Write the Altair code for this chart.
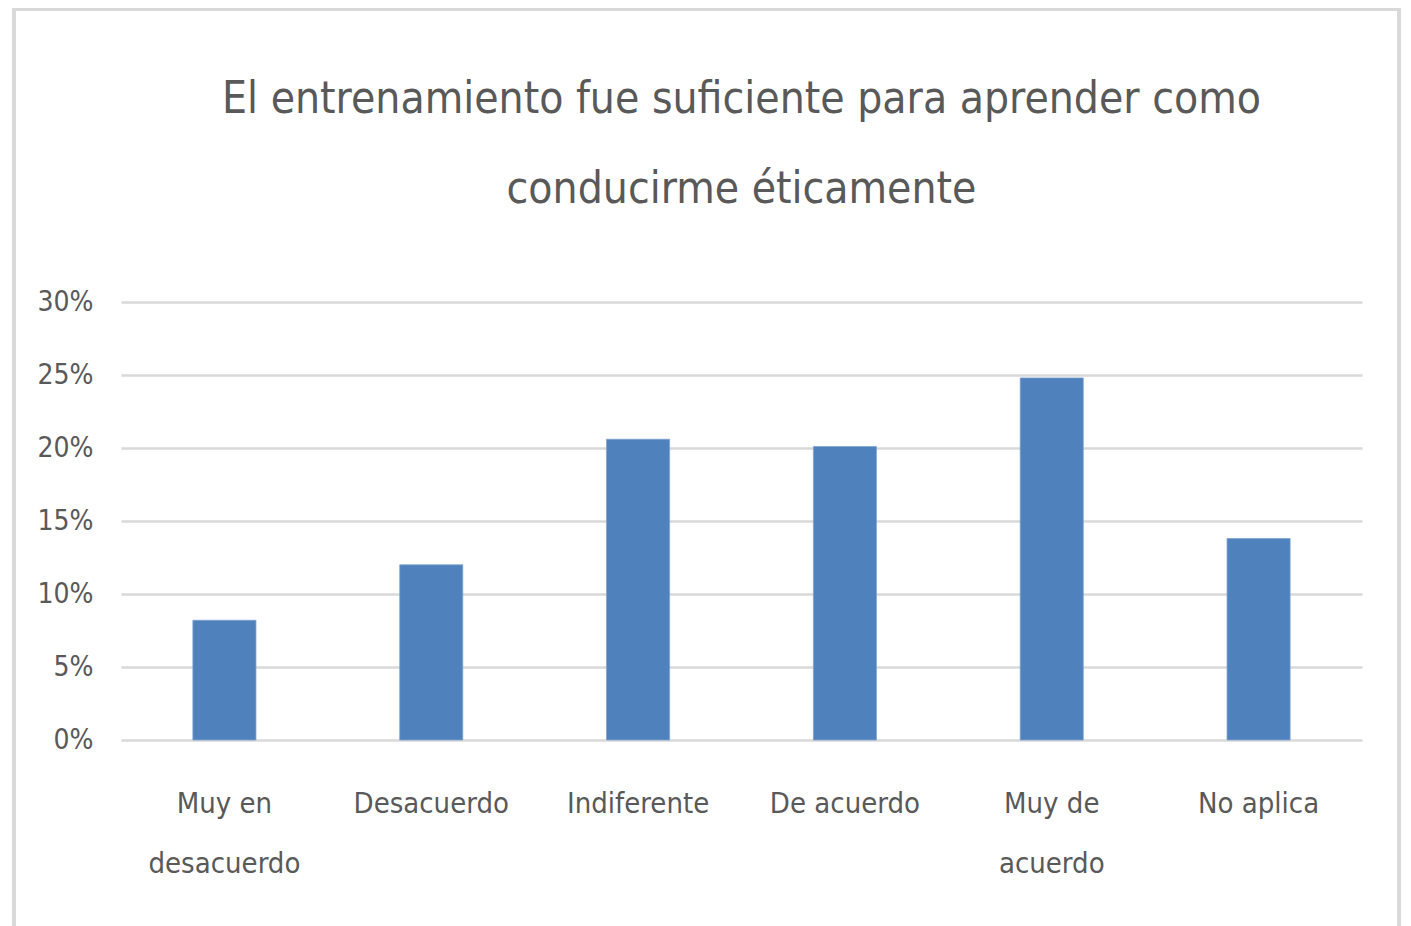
import altair as alt
import pandas as pd

categories = ["Muy en desacuerdo", "Desacuerdo", "Indiferente", "De acuerdo", "Muy de acuerdo", "No aplica"]
values = [0.082, 0.120, 0.206, 0.201, 0.248, 0.138]
y_ticks = [0, 0.05, 0.10, 0.15, 0.20, 0.25, 0.30]
title_lines = ["El entrenamiento fue suficiente para aprender como", "conducirme éticamente"]

df = pd.DataFrame({"cat": categories, "val": values})

FONT = "DejaVu Sans Condensed"
GREY = "#595959"

label_expr = ("datum.value == 'Muy en desacuerdo' ? ['Muy en', 'desacuerdo'] : "
              "datum.value == 'Muy de acuerdo' ? ['Muy de', 'acuerdo'] : datum.value")

bars = alt.Chart(df).mark_bar(color="#4F81BD", stroke="#7FA3D3", strokeWidth=0.8).encode(
    x=alt.X("cat:N", sort=categories, title=None,
            scale=alt.Scale(paddingInner=0.695, paddingOuter=0.3475),
            axis=alt.Axis(labelAngle=0, labelExpr=label_expr, labelFont=FONT, labelFontSize=29,
                          labelColor=GREY, labelPadding=49, labelLineHeight=60, labelBaseline="top",
                          ticks=False, domain=False, grid=False)),
    y=alt.Y("val:Q", title=None,
            scale=alt.Scale(domain=[0, 0.30], nice=False),
            axis=alt.Axis(values=y_ticks, format=".0%", labelFont=FONT, labelFontSize=28,
                          labelColor=GREY, labelPadding=28, ticks=False, domain=False,
                          grid=True, gridColor="#D9D9D9", gridWidth=2.5)),
)

border = alt.Chart(df).mark_rect(fill=None, stroke="#D9D9D9", strokeWidth=3, clip=False).encode(
    x=alt.value(-107), x2=alt.value(1278), y=alt.value(-293), y2=alt.value(800)
)

chart = alt.layer(border, bars).properties(
    width=1241, height=438,
    autosize=alt.AutoSizeParams(type="none"),
    padding={"left": 113, "top": 294, "right": 41, "bottom": 186},
    title=alt.TitleParams(title_lines, font=FONT, fontSize=44, fontWeight="normal",
                          color=GREY, anchor="middle", lineHeight=90, offset=-204),
).configure(background="white").configure_view(stroke=None, strokeWidth=0)

chart.save("out.html", embed_options={"renderer": "svg", "actions": False})
